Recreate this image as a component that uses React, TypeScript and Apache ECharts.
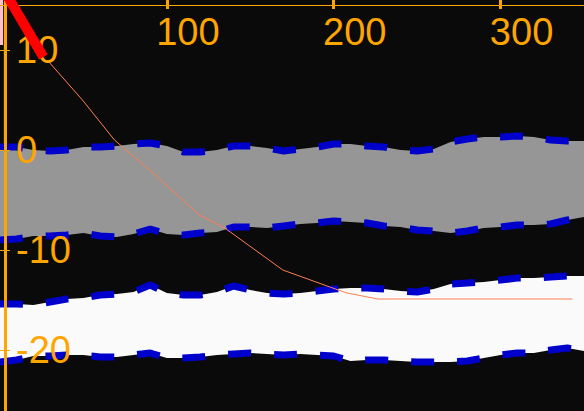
import React, { useEffect, useRef } from "react";
import * as echarts from "echarts";

const bandX = [0, 10, 20, 30, 40, 50, 60, 70, 80, 90, 100, 110, 120, 130, 140, 150, 160, 170, 180, 190, 200, 210, 220, 230, 240, 250, 260, 270, 280, 290, 300, 310, 320, 330, 340, 350];
const greyUpper = [0.3, 0.3, 0.0, -0.1, 0.0, 0.3, 0.3, 0.4, 0.6, 0.7, 0.4, -0.2, -0.2, 0.0, 0.4, 0.4, 0.2, -0.1, 0.1, 0.3, 0.6, 0.6, 0.4, 0.3, 0.0, -0.1, 0.1, 0.8, 1.1, 1.3, 1.3, 1.4, 1.3, 1.0, 0.9, 0.9];
const greyLower = [-9.0, -8.9, -8.6, -8.6, -8.5, -8.3, -8.6, -8.7, -8.4, -7.9, -8.4, -8.5, -8.3, -8.2, -7.7, -7.7, -7.8, -7.6, -7.4, -7.3, -7.1, -7.2, -7.3, -7.6, -7.7, -8.0, -8.1, -8.3, -8.1, -7.8, -7.7, -7.5, -7.5, -7.4, -7.0, -6.7];
const whiteUpper = [-15.4, -15.4, -15.5, -15.2, -14.9, -14.8, -14.5, -14.4, -14.2, -13.5, -14.3, -14.5, -14.5, -14.2, -13.6, -14.0, -14.3, -14.4, -14.3, -14.1, -13.9, -13.8, -13.8, -13.9, -14.1, -14.2, -13.9, -13.4, -13.3, -13.2, -13.0, -12.8, -12.8, -12.7, -12.6, -12.6];
const whiteLower = [-21.2, -21.0, -20.6, -20.6, -20.5, -20.5, -20.7, -20.7, -20.5, -20.3, -20.8, -20.8, -20.7, -20.5, -20.4, -20.3, -20.4, -20.5, -20.4, -20.5, -20.6, -21.1, -21.0, -21.0, -21.1, -21.2, -21.2, -21.2, -21.1, -20.8, -20.5, -20.3, -20.3, -20.0, -19.8, -20.1];

const trendX = [28.3, 49.4, 68.6, 89.6, 107.6, 119.6, 134.7, 169.5, 197.7, 208, 226.5, 343];
const trendY = [9.0, 5.0, 1.0, -2.0, -4.7, -6.5, -7.8, -12.0, -13.7, -14.3, -14.9, -14.9];

const redX = [3, 26];
const redY = [15.8, 9.3];

const pinkX = [0, 1.9];
const pinkUpper = [15.5, 15.5];
const pinkLower = [10.5, 10.5];

const xTicks = [100, 200, 300];
const yTicks = [10, 0, -10, -20];

const ORANGE = "#ffa500";
const BG = "#0a0a0a";
const FONT = "'Liberation Sans', Arial, sans-serif";

function zip(xs: number[], ys: number[]) {
  return xs.map((x, i) => [x, ys[i]]);
}

// Fill from a boundary down to the axis minimum.
function fillDown(xs: number[], ys: number[], color: string) {
  return {
    type: "line",
    data: zip(xs, ys),
    showSymbol: false,
    lineStyle: { width: 0, opacity: 0 },
    areaStyle: { color, opacity: 1, origin: "start" },
    z: 2,
    silent: true,
  };
}

function bandSeries(xs: number[], lower: number[], upper: number[], color: string) {
  return [fillDown(xs, upper, color), fillDown(xs, lower, BG)];
}

function edgeSeries(values: number[]) {
  return {
    type: "line",
    data: zip(bandX, values),
    showSymbol: false,
    lineStyle: { color: "#0000cd", width: 7, type: [23, 23], cap: "butt" },
    z: 2,
    silent: true,
  };
}

export default function App() {
  const ref = useRef<HTMLDivElement>(null);

  useEffect(() => {
    if (!ref.current) return;
    const chart = echarts.init(ref.current, undefined, { renderer: "svg" });
    const axisCommonX = {
      type: "value",
      position: "top",
      min: 0,
      max: 350,
      offset: -5,
      z: 3,
      splitLine: { show: false },
    };
    const axisCommonY = {
      type: "value",
      position: "left",
      min: -30,
      max: 15,
      offset: -5,
      z: 3,
      splitLine: { show: false },
    };
    chart.setOption({
      animation: false,
      backgroundColor: BG,
      grid: { left: 0, top: 0, width: 584, height: 450, containLabel: false, outerBoundsMode: "none" },
      xAxis: [
        {
          ...axisCommonX,
          axisLine: { show: true, onZero: false, lineStyle: { color: ORANGE, width: 1 } },
          axisTick: { show: true, inside: false, length: 5, customValues: xTicks, lineStyle: { color: ORANGE, width: 3 } },
          axisLabel: {
            show: true,
            inside: true,
            margin: 8,
            customValues: xTicks,
            color: ORANGE,
            fontSize: 38,
            fontFamily: FONT,
            align: "center",
            padding: [0, 0, 0, 42],
          },
        },
        {
          ...axisCommonX,
          axisLine: { show: false, onZero: false },
          axisTick: { show: true, inside: true, length: 4, customValues: xTicks, lineStyle: { color: ORANGE, width: 3 } },
          axisLabel: { show: false },
        },
      ],
      yAxis: [
        {
          ...axisCommonY,
          axisLine: { show: true, onZero: false, lineStyle: { color: ORANGE, width: 3 } },
          axisTick: { show: true, inside: false, length: 5, customValues: yTicks, lineStyle: { color: ORANGE, width: 1 } },
          axisLabel: {
            show: true,
            inside: true,
            margin: 11,
            customValues: yTicks,
            color: ORANGE,
            fontSize: 38,
            fontFamily: FONT,
            padding: [5, 0, 0, 0],
          },
        },
        {
          ...axisCommonY,
          axisLine: { show: false, onZero: false },
          axisTick: { show: true, inside: true, length: 5, customValues: yTicks, lineStyle: { color: ORANGE, width: 1 } },
          axisLabel: { show: false },
        },
      ],
      series: [
        ...bandSeries(pinkX, pinkLower, pinkUpper, "#ffc0cb"),
        ...bandSeries(bandX, greyLower, greyUpper, "#969696"),
        ...bandSeries(bandX, whiteLower, whiteUpper, "#fafafa"),
        edgeSeries(greyUpper),
        edgeSeries(greyLower),
        edgeSeries(whiteUpper),
        edgeSeries(whiteLower),
        {
          type: "line",
          data: zip(trendX, trendY),
          showSymbol: false,
          lineStyle: { color: "#ff7f50", width: 1 },
          z: 2,
          silent: true,
        },
        {
          type: "line",
          data: zip(redX, redY),
          showSymbol: false,
          lineStyle: { color: "#ff0000", width: 10, cap: "butt" },
          z: 4,
          silent: true,
        },
      ],
    });
    return () => chart.dispose();
  }, []);

  return <div ref={ref} style={{ position: "absolute", left: 0, top: 0, width: 584, height: 411 }} />;
}
